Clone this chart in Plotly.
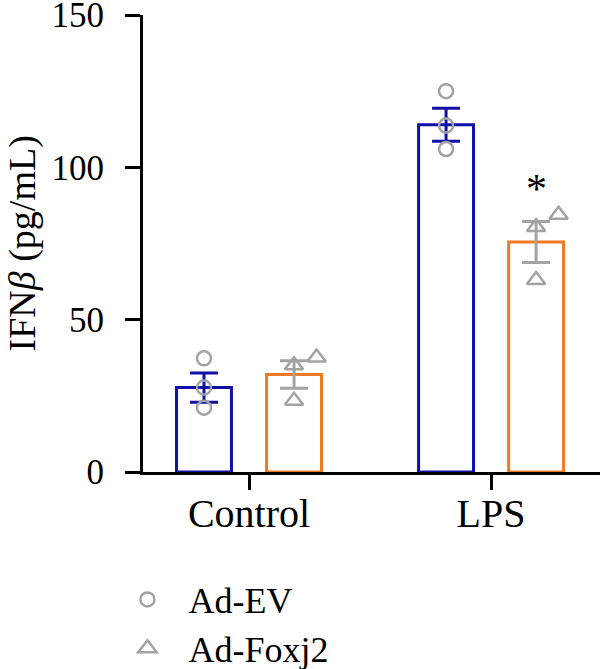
import plotly.graph_objects as go

categories = ["Control", "LPS"]
ev_mean = [27.7, 114.0]
ev_sem = [4.8, 5.4]
fx_mean = [32.0, 75.5]
fx_sem = [4.5, 6.7]
ev_points = [[37.3, 27.7, 21.1], [125.0, 113.7, 106.0]]
fx_points = [[35.0, 37.6, 23.4], [80.4, 84.4, 63.0]]
fx_jitter = [[0, 1, 0], [0, 1, 0]]  # 1 = shifted right to avoid overlap
y_ticks = [0, 50, 100, 150]

BLUE = "#1010A8"
ORANGE = "#F07A22"
GRAY = "#A3A3A3"
FONT = "Liberation Serif"
OFF = 0.186
BW = 0.227
JIT = 0.093

idx = list(range(len(categories)))
fig = go.Figure()

fig.add_trace(go.Bar(
    x=[i - OFF for i in idx], y=ev_mean, width=BW,
    marker=dict(color="rgba(255,255,255,0)", line=dict(color=BLUE, width=3)),
    error_y=dict(type="data", array=ev_sem, color=BLUE, thickness=3, width=14),
    showlegend=False,
))
fig.add_trace(go.Bar(
    x=[i + OFF for i in idx], y=fx_mean, width=BW,
    marker=dict(color="rgba(255,255,255,0)", line=dict(color=ORANGE, width=3)),
    error_y=dict(type="data", array=fx_sem, color=GRAY, thickness=3, width=14),
    showlegend=False,
))

ex, ey = [], []
for i, pts in zip(idx, ev_points):
    for v in pts:
        ex.append(i - OFF)
        ey.append(v)
fxx, fyy = [], []
for i, pts, js in zip(idx, fx_points, fx_jitter):
    for v, j in zip(pts, js):
        fxx.append(i + OFF + j * JIT)
        fyy.append(v)

fig.add_trace(go.Scatter(
    x=ex, y=ey, mode="markers", name="Ad-EV", legend="legend",
    marker=dict(symbol="circle-open", size=14, color=GRAY, line=dict(width=2.5, color=GRAY)),
))
fig.add_trace(go.Scatter(
    x=fxx, y=fyy, mode="markers", name="Ad-Foxj2", legend="legend2",
    marker=dict(symbol="triangle-up-open", size=16, color=GRAY, line=dict(width=2.5, color=GRAY)),
))

fig.add_annotation(x=1 + OFF, y=93, text="*", showarrow=False,
                   font=dict(family=FONT, size=42, color="black"))
fig.add_annotation(x=0, xref="paper", xshift=-121, xanchor="center",
                   y=0.5, yref="paper", yanchor="middle",
                   text="IFN<i>β</i> (pg/mL)", textangle=-90, showarrow=False,
                   font=dict(family=FONT, size=38, color="black"))

fig.update_layout(
    width=600, height=669,
    margin=dict(l=143, r=0, t=15, b=197, autoexpand=False),
    paper_bgcolor="white", plot_bgcolor="white",
    barmode="overlay",
    font=dict(family=FONT, color="black"),
    xaxis=dict(range=[-0.438, 1.45], tickvals=idx, ticktext=categories,
               showline=True, linecolor="black", linewidth=3,
               ticks="outside", ticklen=15, tickwidth=3, tickcolor="black",
               tickfont=dict(family=FONT, size=40), ticklabelstandoff=-11,
               showgrid=False, zeroline=False, automargin=False),
    yaxis=dict(range=[0, 150], tickvals=y_ticks,
               showline=True, linecolor="black", linewidth=3,
               ticks="outside", ticklen=15, tickwidth=3, tickcolor="black",
               tickfont=dict(family=FONT, size=35), ticklabelstandoff=14,
               ticklabeloverflow="allow",
               showgrid=False, zeroline=False, automargin=False),
    legend=dict(x=-0.08, y=-0.279, xanchor="left", yanchor="middle",
                xref="paper", yref="paper", itemwidth=72,
                font=dict(family=FONT, size=36), bgcolor="rgba(0,0,0,0)"),
    legend2=dict(x=-0.08, y=-0.386, xanchor="left", yanchor="middle",
                 xref="paper", yref="paper", itemwidth=72,
                 font=dict(family=FONT, size=36), bgcolor="rgba(0,0,0,0)"),
)

fig.write_html("out.html")
